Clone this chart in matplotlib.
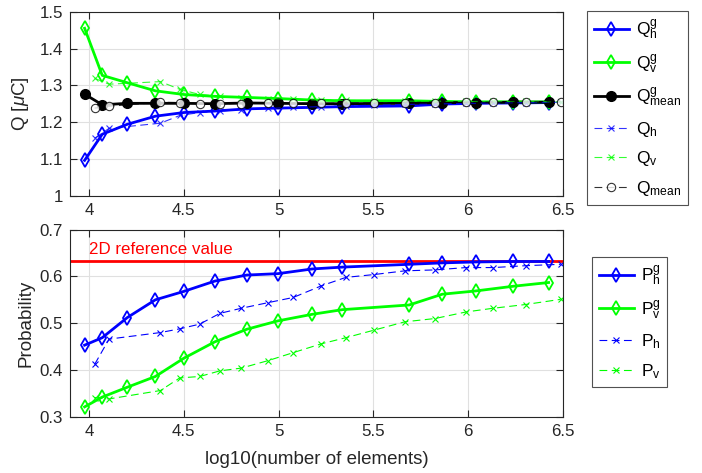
import numpy as np
import matplotlib
matplotlib.use("Agg")
import matplotlib.pyplot as plt
from matplotlib.ticker import FuncFormatter

plt.rcParams['font.family'] = ['Liberation Sans', 'DejaVu Sans']
plt.rcParams['mathtext.fontset'] = 'custom'
plt.rcParams['mathtext.rm'] = 'Liberation Sans'
plt.rcParams['mathtext.it'] = 'Liberation Sans:italic'

# x positions (log10 of element count)
x_g = [3.977, 4.070, 4.202, 4.350, 4.500, 4.663, 4.832, 4.997, 5.177,
       5.337, 5.689, 5.863, 6.040, 6.237, 6.424]
x_n = [4.030, 4.106, 4.377, 4.479, 4.584, 4.690, 4.804, 4.945, 5.077,
       5.226, 5.355, 5.502, 5.666, 5.825, 5.988, 6.132, 6.303, 6.487]

# charge, gauss meshes
Qg_h = [1.096, 1.167, 1.194, 1.216, 1.226, 1.230, 1.236, 1.238, 1.240,
        1.242, 1.244, 1.249, 1.251, 1.252, 1.253]
Qg_v = [1.455, 1.327, 1.307, 1.285, 1.275, 1.270, 1.267, 1.264, 1.260,
        1.258, 1.258, 1.256, 1.255, 1.255, 1.255]
Qg_mean = [1.276, 1.247, 1.251, 1.251, 1.251, 1.250, 1.252, 1.251, 1.250,
           1.250, 1.251, 1.253, 1.253, 1.254, 1.254]
# charge, other meshes
Q_h = [1.156, 1.183, 1.197, 1.218, 1.226, 1.230, 1.234, 1.237, 1.240,
       1.242, 1.244, 1.246, 1.248, 1.249, 1.251, 1.252, 1.253, 1.254]
Q_v = [1.319, 1.303, 1.310, 1.289, 1.275, 1.270, 1.266, 1.264, 1.262,
       1.260, 1.259, 1.258, 1.257, 1.257, 1.256, 1.256, 1.256, 1.255]
Q_mean = [1.238, 1.243, 1.254, 1.253, 1.250, 1.250, 1.250, 1.251, 1.251,
          1.251, 1.252, 1.252, 1.253, 1.253, 1.254, 1.254, 1.255, 1.255]

# probability
Pg_h = [0.453, 0.469, 0.512, 0.550, 0.568, 0.590, 0.603, 0.606, 0.616,
        0.620, 0.626, 0.629, 0.631, 0.632, 0.632]
Pg_v = [0.321, 0.342, 0.363, 0.386, 0.425, 0.460, 0.487, 0.505, 0.519,
        0.529, 0.539, 0.562, 0.569, 0.579, 0.587]
P_h = [0.412, 0.466, 0.480, 0.488, 0.498, 0.521, 0.532, 0.544, 0.555,
       0.580, 0.598, 0.604, 0.612, 0.614, 0.619, 0.619, 0.623, 0.626]
P_v = [0.341, 0.338, 0.356, 0.383, 0.386, 0.398, 0.404, 0.420, 0.437,
       0.456, 0.469, 0.485, 0.503, 0.510, 0.524, 0.532, 0.540, 0.551]
P_ref = 0.632

blue = (0, 0, 1)
green = (0, 1, 0)
axcol = (0.15, 0.15, 0.15)
fs = 12.2
fl = 13.5

fig = plt.figure(figsize=(7.02, 4.73), dpi=100)
W, H = 702, 473
ax1 = fig.add_axes([70 / W, 1 - 195.7 / H, 493 / W, 184 / H])
ax2 = fig.add_axes([70 / W, 1 - 416.7 / H, 493 / W, 187 / H])

thick = dict(lw=2, marker='d', ms=7, mfc='none', mew=1.3)
thin = dict(lw=0.8, ls=(0, (7, 4)), marker='x', ms=5, mew=0.8)

ax1.plot(x_g, Qg_h, color=blue, label=r'Q$^{\mathrm{g}}_{\mathrm{h}}$', **thick)
ax1.plot(x_g, Qg_v, color=green, label=r'Q$^{\mathrm{g}}_{\mathrm{v}}$', **thick)
ax1.plot(x_g, Qg_mean, color='k', lw=2, marker='o', ms=7,
         label=r'Q$^{\mathrm{g}}_{\mathrm{mean}}$')
ax1.plot(x_n, Q_h, color=blue, label=r'Q$_{\mathrm{h}}$', alpha=0.8, **thin)
ax1.plot(x_n, Q_v, color=green, label=r'Q$_{\mathrm{v}}$', alpha=0.8, **thin)
ax1.plot(x_n, Q_mean, color='k', lw=0.8, ls=(0, (7, 4)), marker='o', ms=6,
         mfc='white', mew=0.8, alpha=0.8, label=r'Q$_{\mathrm{mean}}$')

ax2.axhline(P_ref, color='r', lw=2)
ax2.text(4.0, 0.648, '2D reference value', color='r', fontsize=fs)
ax2.plot(x_g, Pg_h, color=blue, label=r'P$^{\mathrm{g}}_{\mathrm{h}}$', **thick)
ax2.plot(x_g, Pg_v, color=green, label=r'P$^{\mathrm{g}}_{\mathrm{v}}$', **thick)
ax2.plot(x_n, P_h, color=blue, label=r'P$_{\mathrm{h}}$', **thin)
ax2.plot(x_n, P_v, color=green, label=r'P$_{\mathrm{v}}$', **thin)

fmt = FuncFormatter(lambda v, p: f'{v:g}')
for ax in (ax1, ax2):
    ax.set_xlim(3.9, 6.5)
    ax.set_xticks([4, 4.5, 5, 5.5, 6, 6.5])
    ax.xaxis.set_major_formatter(fmt)
    ax.yaxis.set_major_formatter(fmt)
    ax.grid(True, color=(0.88, 0.88, 0.88), lw=0.8)
    ax.set_axisbelow(True)
    ax.tick_params(direction='in', length=5, colors=axcol, labelsize=fs,
                   top=True, right=True, labelcolor=axcol, pad=5)
    for s in ax.spines.values():
        s.set_color(axcol)
        s.set_linewidth(0.8)

ax1.set_ylim(1, 1.5)
ax1.set_yticks([1, 1.1, 1.2, 1.3, 1.4, 1.5])
ax1.set_ylabel(r'Q [$\mu$C]', fontsize=fl, color=axcol, labelpad=6)
ax2.set_ylim(0.3, 0.7)
ax2.set_yticks([0.3, 0.4, 0.5, 0.6, 0.7])
ax2.set_ylabel('Probability', fontsize=fl, color=axcol, labelpad=4)
ax2.set_xlabel('log10(number of elements)', fontsize=fl, color=axcol,
               labelpad=9)

leg_kw = dict(fontsize=12.5, frameon=True, fancybox=False, edgecolor=axcol,
              handlelength=2.0, handletextpad=0.4, borderpad=0.4,
              labelspacing=0.62, borderaxespad=0)
l1 = ax1.legend(loc='upper left', bbox_to_anchor=(587 / W, 1 - 11 / H),
                bbox_transform=fig.transFigure, **leg_kw)
l2 = ax2.legend(loc='upper left', bbox_to_anchor=(592 / W, 1 - 257 / H),
                bbox_transform=fig.transFigure, **leg_kw)
for l in (l1, l2):
    l.get_frame().set_linewidth(0.8)

fig.savefig('out.png', dpi=100)
